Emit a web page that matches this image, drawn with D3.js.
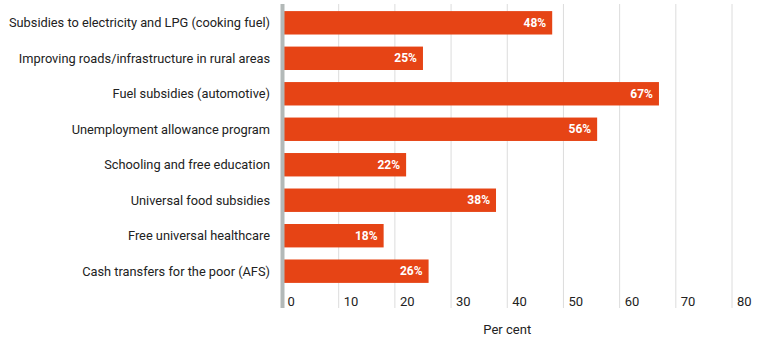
<!DOCTYPE html>
<html>
<head>
<meta charset="utf-8">
<script src="https://cdn.jsdelivr.net/npm/d3@7"></script>
<style>
  html, body { margin: 0; padding: 0; background: #fff; }
  svg { display: block; font-family: Roboto, "Noto Sans", sans-serif; }
</style>
</head>
<body>
<svg id="chart" width="764" height="344"></svg>
<script>
// Support for welfare programmes, share of respondents
const categories = [
  "Subsidies to electricity and LPG (cooking fuel)",
  "Improving roads/infrastructure in rural areas",
  "Fuel subsidies (automotive)",
  "Unemployment allowance program",
  "Schooling and free education",
  "Universal food subsidies",
  "Free universal healthcare",
  "Cash transfers for the poor (AFS)"
];
const values = [48, 25, 67, 56, 22, 38, 18, 26];
const xTicks = [0, 10, 20, 30, 40, 50, 60, 70, 80];
const axisTitle = "Per cent";

const svg = d3.select("#chart");
const plot = { left: 282.5, right: 732, top: 4, bottom: 308 };

const x = d3.scaleLinear().domain([0, 80]).range([plot.left, plot.right]);
const y = d3.scaleBand().domain(categories).range([4, 290]).paddingInner(0.34).paddingOuter(0.2);

// vertical grid lines
svg.append("g")
  .selectAll("line")
  .data(xTicks.slice(1))
  .join("line")
  .attr("x1", d => x(d)).attr("x2", d => x(d))
  .attr("y1", plot.top).attr("y2", plot.bottom)
  .attr("stroke", "#dcdcdc").attr("stroke-width", 1);

// tick labels
svg.append("g")
  .selectAll("text")
  .data(xTicks)
  .join("text")
  .attr("x", d => x(d) + 5)
  .attr("y", 301)
  .attr("dy", "0.35em")
  .attr("font-size", 13)
  .attr("fill", "#222")
  .text(d => d);

// axis title
svg.append("text")
  .attr("x", (plot.left + plot.right) / 2)
  .attr("y", 329)
  .attr("dy", "0.35em")
  .attr("text-anchor", "middle")
  .attr("font-size", 13)
  .attr("fill", "#222")
  .text(axisTitle);

// bars
svg.append("g")
  .selectAll("rect")
  .data(values)
  .join("rect")
  .attr("x", x(0))
  .attr("y", (d, i) => y(categories[i]))
  .attr("width", d => x(d) - x(0))
  .attr("height", y.bandwidth())
  .attr("fill", "#e64415");

// value labels
svg.append("g")
  .selectAll("text")
  .data(values)
  .join("text")
  .attr("x", d => x(d) - 6)
  .attr("y", (d, i) => y(categories[i]) + y.bandwidth() / 2)
  .attr("dy", "0.35em")
  .attr("text-anchor", "end")
  .attr("font-size", 12)
  .attr("font-weight", 700)
  .attr("fill", "#fff")
  .text(d => d + "%");

// category labels
svg.append("g")
  .selectAll("text")
  .data(categories)
  .join("text")
  .attr("x", 270)
  .attr("y", d => y(d) + y.bandwidth() / 2)
  .attr("dy", "0.35em")
  .attr("text-anchor", "end")
  .attr("font-size", 12.8)
  .attr("fill", "#222")
  .text(d => d);

// zero baseline
svg.append("line")
  .attr("x1", x(0)).attr("x2", x(0))
  .attr("y1", plot.top).attr("y2", plot.bottom)
  .attr("stroke", "#b3b9b8").attr("stroke-width", 4);
</script>
</body>
</html>
